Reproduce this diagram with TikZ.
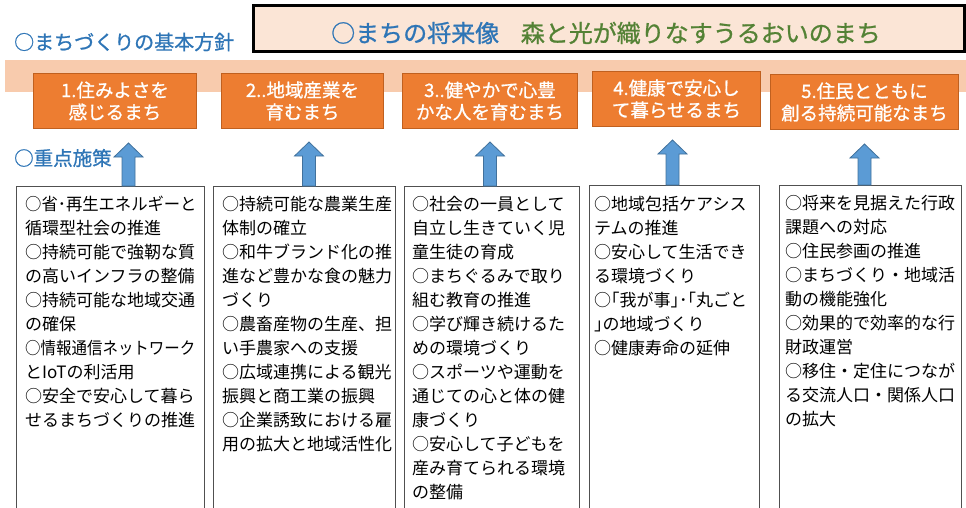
\documentclass[tikz,border=0pt]{standalone}
\usepackage{fontspec}
\setmainfont{Noto Sans CJK JP}
\newfontfamily\jpmed[FakeBold=0.9]{Noto Sans CJK JP}
\definecolor{headblue}{HTML}{2E75B6}
\definecolor{titlegreen}{HTML}{548235}
\definecolor{bandpeach}{HTML}{F8CBAD}
\definecolor{titlefill}{HTML}{FBE5D6}
\definecolor{orangefill}{HTML}{ED7D31}
\definecolor{orangeline}{HTML}{C0601F}
\definecolor{arrowfill}{HTML}{5B9BD5}
\definecolor{arrowline}{HTML}{41719C}
\definecolor{boxline}{HTML}{505050}
\tikzset{
  goalbox/.style={draw=orangeline, line width=0.9pt, fill=orangefill, text=white,
    align=center, inner sep=0pt, font=\jpmed\fontsize{18.5}{22}\selectfont},
  polbox/.style={draw=boxline, line width=1pt, fill=white, inner sep=0pt},
  poltext/.style={align=left, inner sep=0pt, anchor=north west,
    font=\fontsize{17}{24}\selectfont},
  heading/.style={text=headblue, inner sep=0pt, anchor=west, font=\jpmed\fontsize{20}{24}\selectfont},
  uparrowshape/.style={fill=arrowfill, draw=arrowline, line width=0.8pt, line join=miter}
}
\newcommand{\UpArr}[3]{% x, tip y, bottom y
  \filldraw[uparrowshape] (#1-6.5,#3) -- (#1-6.5,#2+14) -- (#1-14.5,#2+14) -- (#1,#2)
    -- (#1+14.5,#2+14) -- (#1+6.5,#2+14) -- (#1+6.5,#3) -- cycle;}
\begin{document}
\begin{tikzpicture}[x=1pt,y=-1pt]
\useasboundingbox (0,0) rectangle (966,508);
\clip (0,0) rectangle (966,508);
% title
\node[draw=black, line width=2.6pt, fill=titlefill, minimum width=711pt, minimum height=46pt,
  inner sep=0pt, anchor=north west] (title) at (252,4) {};
\node[inner sep=0pt, font=\jpmed\fontsize{24}{28}\selectfont] (titletext) at (606,33)
  {\textcolor{headblue}{○まちの将来像}\hspace{0.9em}\textcolor{titlegreen}{森と光が織りなすうるおいのまち}};
\node[heading] (h1) at (14,42) {○まちづくりの基本方針};
% band
\fill[bandpeach] (5,60) rectangle (966,92);
% goal boxes
\node[goalbox, minimum width=163pt, minimum height=55pt, anchor=north west] (g1) at (33,73) {1.住みよさを\\感じるまち};
\node[goalbox, minimum width=162pt, minimum height=55pt, anchor=north west] (g2) at (221,73) {2..地域産業を\\育むまち};
\node[goalbox, minimum width=175pt, minimum height=55pt, anchor=north west] (g3) at (402,73) {3..健やかで心豊\\かな人を育むまち};
\node[goalbox, minimum width=168pt, minimum height=55pt, anchor=north west] (g4) at (592,71) {4.健康で安心し\\て暮らせるまち};
\node[goalbox, minimum width=188pt, minimum height=55pt, anchor=north west] (g5) at (770,74) {5.住民とともに\\創る持続可能なまち};
\node[heading, font=\jpmed\fontsize{19.5}{24}\selectfont] (h2) at (14,158) {○重点施策};
% policy boxes
\node[polbox, minimum width=188pt, minimum height=340pt, anchor=north west] (p1) at (16,186) {};
\node[polbox, minimum width=182pt, minimum height=340pt, anchor=north west] (p2) at (213,186) {};
\node[polbox, minimum width=175pt, minimum height=340pt, anchor=north west] (p3) at (404,186) {};
\node[polbox, minimum width=170pt, minimum height=340pt, anchor=north west] (p4) at (589,185) {};
\node[polbox, minimum width=182pt, minimum height=340pt, anchor=north west] (p5) at (779,185) {};
% arrows
\UpArr{128.5}{143}{186}
\UpArr{309}{142}{186}
\UpArr{490}{142}{186}
\UpArr{672.5}{140}{185}
\UpArr{864.5}{144}{185}
% texts
\node[poltext] (t1) at (25,196) {\scalebox{0.96}[1]{○省･再生エネルギーと}\\循環型社会の推進\\○持続可能で強靭な質\\の高いインフラの整備\\○持続可能な地域交通\\の確保\\\scalebox{0.91}[1]{○情報通信ネットワーク}\\とIoTの利活用\\○安全で安心して暮ら\\せるまちづくりの推進};
\node[poltext] (t2) at (222,196) {○持続可能な農業生産\\体制の確立\\○和牛ブランド化の推\\進など豊かな食の魅力\\づくり\\○農畜産物の生産、担\\い手農家への支援\\○広域連携による観光\\振興と商工業の振興\\○企業誘致における雇\\用の拡大と地域活性化};
\node[poltext] (t3) at (412,196) {○社会の一員として\\自立し生きていく児\\童生徒の育成\\○まちぐるみで取り\\組む教育の推進\\○学び輝き続けるた\\めの環境づくり\\○スポーツや運動を\\通じての心と体の健\\康づくり\\○安心して子どもを\\産み育てられる環境\\の整備};
\node[poltext] (t4) at (594,196) {○地域包括ケアシス\\テムの推進\\○安心して生活でき\\る環境づくり\\○｢我が事｣･｢丸ごと\\｣の地域づくり\\○健康寿命の延伸};
\node[poltext] (t5) at (785,195) {○将来を見据えた行政\\課題への対応\\○住民参画の推進\\○まちづくり・地域活\\動の機能強化\\○効果的で効率的な行\\財政運営\\○移住・定住につなが\\る交流人口・関係人口\\の拡大};
\end{tikzpicture}
\end{document}
